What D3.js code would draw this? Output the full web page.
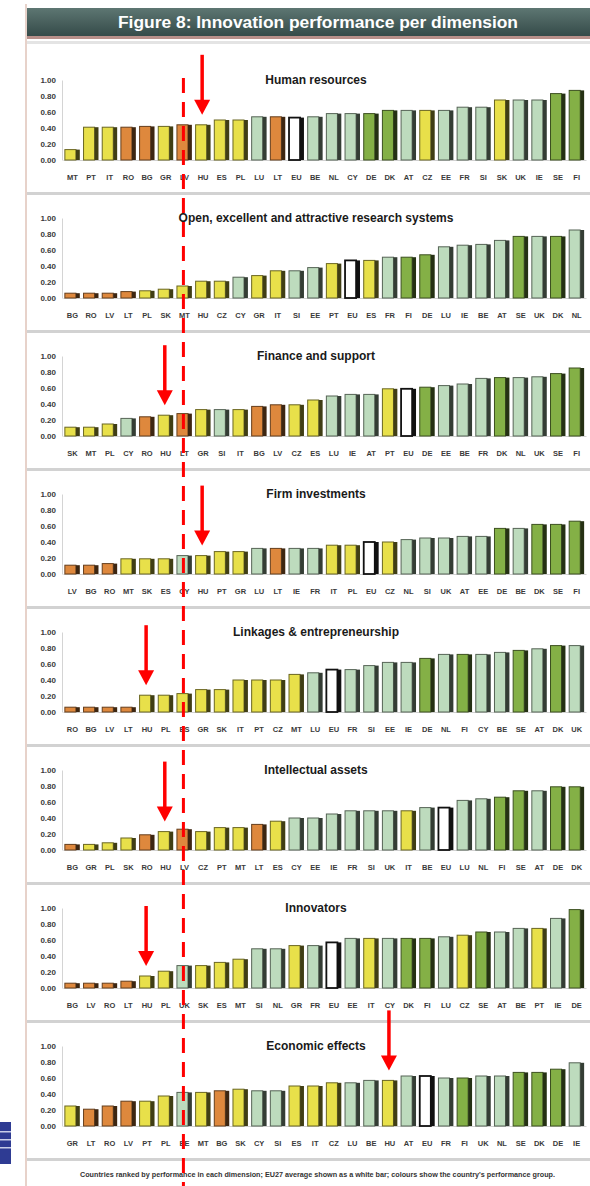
<!DOCTYPE html>
<html>
<head>
<meta charset="utf-8">
<script src="https://cdn.jsdelivr.net/npm/d3@7"></script>
<style>
  body { margin: 0; background: #ffffff; }
  svg { display: block; font-family: "Liberation Sans", Arial, sans-serif; }
</style>
</head>
<body>
<script>
"use strict";

// Titres des dimensions (un panneau par dimension)
const dimensions = [
  "Human resources",
  "Open, excellent and attractive research systems",
  "Finance and support",
  "Firm investments",
  "Linkages & entrepreneurship",
  "Intellectual assets",
  "Innovators",
  "Economic effects"
];

// Pays et scores, triés par score, pour chaque dimension
const hrCountries = ["MT","PT","IT","RO","BG","GR","LV","HU","ES","PL","LU","LT","EU","BE","NL","CY","DE","DK","AT","CZ","EE","FR","SI","SK","UK","IE","SE","FI"];
const hrValues = [0.13,0.41,0.41,0.41,0.42,0.42,0.44,0.44,0.50,0.50,0.54,0.54,0.53,0.54,0.58,0.58,0.58,0.62,0.62,0.62,0.62,0.66,0.66,0.75,0.75,0.75,0.83,0.87];

const resCountries = ["BG","RO","LV","LT","PL","SK","MT","HU","CZ","CY","GR","IT","SI","EE","PT","EU","ES","FR","FI","DE","LU","IE","BE","AT","SE","UK","DK","NL"];
const resValues = [0.06,0.06,0.06,0.08,0.09,0.11,0.15,0.21,0.21,0.26,0.28,0.34,0.34,0.38,0.43,0.47,0.47,0.51,0.51,0.54,0.64,0.66,0.67,0.72,0.77,0.77,0.77,0.85];

const finCountries = ["SK","MT","PL","CY","RO","HU","LT","GR","SI","IT","BG","LV","CZ","ES","LU","IE","AT","PT","EU","DE","EE","BE","FR","DK","NL","UK","SE","FI"];
const finValues = [0.11,0.11,0.15,0.22,0.24,0.26,0.28,0.33,0.33,0.33,0.37,0.39,0.39,0.45,0.50,0.52,0.52,0.59,0.59,0.61,0.63,0.65,0.72,0.73,0.73,0.74,0.78,0.85];

const firmCountries = ["LV","BG","RO","MT","SK","ES","CY","HU","PT","GR","LU","LT","IE","FR","IT","PL","EU","CZ","NL","SI","UK","AT","EE","DE","BE","DK","SE","FI"];
const firmValues = [0.11,0.11,0.13,0.19,0.19,0.19,0.23,0.23,0.28,0.28,0.32,0.32,0.32,0.32,0.36,0.36,0.40,0.40,0.43,0.45,0.45,0.47,0.47,0.57,0.57,0.62,0.62,0.66];

const linkCountries = ["RO","BG","LV","LT","HU","PL","ES","GR","SK","IT","PT","CZ","MT","LU","EU","FR","SI","EE","IE","DE","NL","FI","CY","BE","SE","AT","DK","UK"];
const linkValues = [0.06,0.06,0.06,0.06,0.21,0.21,0.23,0.28,0.28,0.40,0.40,0.40,0.47,0.49,0.53,0.53,0.58,0.62,0.62,0.67,0.72,0.72,0.72,0.745,0.77,0.79,0.83,0.83];

const ipCountries = ["BG","GR","PL","SK","RO","HU","LV","CZ","PT","MT","LT","ES","CY","EE","IE","FR","SI","UK","IT","BE","EU","LU","NL","FI","SE","AT","DE","DK"];
const ipValues = [0.07,0.07,0.09,0.15,0.19,0.23,0.26,0.23,0.28,0.28,0.32,0.36,0.40,0.40,0.45,0.49,0.49,0.49,0.49,0.53,0.53,0.62,0.64,0.66,0.74,0.74,0.79,0.79];

const innoCountries = ["BG","LV","RO","LT","HU","PL","UK","SK","ES","MT","SI","NL","GR","FR","EU","EE","IT","CY","DK","FI","LU","CZ","SE","AT","BE","PT","IE","DE"];
const innoValues = [0.06,0.06,0.06,0.085,0.15,0.21,0.28,0.28,0.32,0.36,0.49,0.49,0.53,0.53,0.57,0.62,0.62,0.62,0.62,0.62,0.64,0.66,0.70,0.70,0.745,0.745,0.87,0.98];

const econCountries = ["GR","LT","RO","LV","PT","PL","EE","MT","BG","SK","CY","SI","ES","IT","CZ","LU","BE","HU","AT","EU","FR","FI","UK","NL","SE","DK","DE","IE"];
const econValues = [0.25,0.21,0.25,0.31,0.31,0.375,0.42,0.42,0.44,0.46,0.44,0.44,0.50,0.50,0.54,0.54,0.57,0.57,0.625,0.625,0.60,0.60,0.625,0.625,0.67,0.67,0.71,0.79];

const panelCountries = [hrCountries, resCountries, finCountries, firmCountries, linkCountries, ipCountries, innoCountries, econCountries];
const panelValues = [hrValues, resValues, finValues, firmValues, linkValues, ipValues, innoValues, econValues];

// Groupes de performance
const leaders = ["SE","DK","FI","DE"];
const followers = ["UK","BE","AT","IE","LU","FR","CY","SI","EE","NL"];
const moderate = ["CZ","PT","GR","ES","IT","MT","HU","SK","PL"];
const modest = ["LT","RO","LV","BG"];

const yTicks = [0, 0.2, 0.4, 0.6, 0.8, 1.0];

// Pays mis en évidence par les flèches, et panneaux qui en ont une
const focusCountry = "HU";
const arrowPanels = [0, 2, 3, 4, 5, 6, 7];
// Rang (position) où passe la ligne pointillée
const cutRank = 6;

const footnote = "Countries ranked by performance in each dimension; EU27 average shown as a white bar; colours show the country's performance group.";

// ---- mise en page ----
const W = 590, H = 1186;
const boxLeft = 27;
const panelTop0 = 45, panelStep = 138;
const plotTop = 35, plotBottom = 115;

function groupColor(c) {
  if (c === "EU") return "#ffffff";
  if (leaders.indexOf(c) >= 0) return "#84b046";
  if (followers.indexOf(c) >= 0) return "#bddbbd";
  if (moderate.indexOf(c) >= 0) return "#e8e04a";
  if (modest.indexOf(c) >= 0) return "#de883d";
  return "#cccccc";
}

const svg = d3.select("body").append("svg")
  .attr("width", W)
  .attr("height", H);

// header gradient
const defs = svg.append("defs");
const grad = defs.append("linearGradient").attr("id", "hdr").attr("x1", "0").attr("x2", "0").attr("y1", "0").attr("y2", "1");
grad.append("stop").attr("offset", "0%").attr("stop-color", "#5d7672");
grad.append("stop").attr("offset", "100%").attr("stop-color", "#354b49");

// left frame of the figure
svg.append("rect")
  .attr("x", boxLeft - 2).attr("y", 4)
  .attr("width", 2).attr("height", H - 4)
  .attr("fill", "#e7d2ca");

svg.append("rect")
  .attr("x", boxLeft).attr("y", 8)
  .attr("width", W - boxLeft).attr("height", 28)
  .attr("fill", "url(#hdr)");

svg.append("rect")
  .attr("x", boxLeft).attr("y", 36)
  .attr("width", W - boxLeft).attr("height", 3)
  .attr("fill", "#b8908a");

svg.append("text")
  .attr("x", 318).attr("y", 28)
  .attr("text-anchor", "middle")
  .attr("textLength", 400)
  .attr("lengthAdjust", "spacingAndGlyphs")
  .attr("fill", "#ffffff")
  .style("font-size", "16px")
  .style("font-weight", "bold")
  .text("Figure 8: Innovation performance per dimension");

svg.append("rect")
  .attr("x", boxLeft).attr("y", 41)
  .attr("width", W - boxLeft).attr("height", 3)
  .attr("fill", "#e4e4e4");

// bout de page bleu en bas à gauche
svg.append("rect").attr("x", 0).attr("y", 1122).attr("width", 11).attr("height", 42).attr("fill", "#2e3b93");
[1131, 1139, 1147].forEach(function(yy) {
  svg.append("rect").attr("x", 0).attr("y", yy).attr("width", 11).attr("height", 1.5).attr("fill", "#c8cde8");
});

const x = d3.scaleBand()
  .domain(d3.range(28))
  .range([63, 586])
  .paddingInner(0.2)
  .paddingOuter(0.1);

const y = d3.scaleLinear()
  .domain([0, 1])
  .range([plotBottom, plotTop]);

const bw = x.bandwidth();
const side = bw * 0.26;

dimensions.forEach(function(title, p) {
  const countries = panelCountries[p];
  const values = panelValues[p];
  const g = svg.append("g")
    .attr("transform", "translate(0," + (panelTop0 + p * panelStep) + ")");

  // title
  g.append("text")
    .attr("x", 316).attr("y", plotTop + 4)
    .attr("text-anchor", "middle")
    .attr("fill", "#1a1a1a")
    .style("font-size", "12px")
    .style("font-weight", "bold")
    .text(title);

  // y axis
  const ya = g.append("g")
    .attr("transform", "translate(62,0)")
    .call(d3.axisLeft(y).tickValues(yTicks).tickFormat(d3.format(".2f")).tickSize(0).tickPadding(6));
  ya.select(".domain").attr("stroke", "#d4d4d4");
  ya.selectAll("text").attr("fill", "#3a3a3a").style("font-size", "8px").style("font-weight", "bold");

  // x axis
  const xa = g.append("g")
    .attr("transform", "translate(0," + plotBottom + ")")
    .call(d3.axisBottom(x).tickFormat(function(i) { return countries[i]; }).tickSize(0).tickPadding(15));
  xa.select(".domain").attr("stroke", "#d0d0d0");
  xa.selectAll("text").attr("fill", "#3a3a3a").style("font-size", "7.5px").style("font-weight", "bold");

  const bars = g.selectAll(".bar")
    .data(values)
    .enter().append("g")
    .attr("class", "bar");

  // face
  bars.append("rect")
    .attr("x", function(d, i) { return x(i); })
    .attr("y", function(d) { return y(d); })
    .attr("width", bw - side)
    .attr("height", function(d) { return y(0) - y(d); })
    .attr("fill", function(d, i) { return groupColor(countries[i]); })
    .attr("stroke", function(d, i) {
      return countries[i] === "EU" ? "#111" : d3.color(groupColor(countries[i])).darker(2.2);
    })
    .attr("stroke-width", function(d, i) { return countries[i] === "EU" ? 1.8 : 1; });

  // côté sombre (effet 3D)
  bars.append("rect")
    .attr("x", function(d, i) { return x(i) + bw - side; })
    .attr("y", function(d) { return y(d); })
    .attr("width", side)
    .attr("height", function(d) { return y(0) - y(d); })
    .attr("fill", function(d, i) {
      return countries[i] === "EU" ? "#111" : d3.color(groupColor(countries[i])).darker(3.6);
    });

  // separator
  g.append("rect")
    .attr("x", boxLeft).attr("y", 147)
    .attr("width", W - boxLeft).attr("height", 3)
    .attr("fill", "#d2d2d2");

  // arrow on the focus country
  if (arrowPanels.indexOf(p) >= 0) {
    const idx = countries.indexOf(focusCountry);
    const cx = x(idx) + (bw - side) / 2 + 1;
    const tip = y(values[idx]) - 10;
    g.append("line")
      .attr("x1", cx).attr("x2", cx)
      .attr("y1", tip - 60).attr("y2", tip - 12)
      .attr("stroke", "#ff0000")
      .attr("stroke-width", 3.5);
    g.append("path")
      .attr("d", "M" + (cx - 8) + "," + (tip - 15) + "L" + (cx + 8) + "," + (tip - 15) + "L" + cx + "," + tip + "Z")
      .attr("fill", "#ff0000");
  }
});

// footnote
svg.append("text")
  .attr("x", 80).attr("y", 1177)
  .attr("textLength", 475)
  .attr("lengthAdjust", "spacingAndGlyphs")
  .attr("fill", "#333")
  .style("font-size", "6.5px")
  .style("font-weight", "bold")
  .text(footnote);

// ligne pointillée rouge
const cutX = x(cutRank) + bw / 2 - 1;
svg.append("line")
  .attr("x1", cutX).attr("x2", cutX)
  .attr("y1", 78).attr("y2", H)
  .attr("stroke", "#ff0000")
  .attr("stroke-width", 3)
  .attr("stroke-dasharray", "15,9");
</script>
</body>
</html>
